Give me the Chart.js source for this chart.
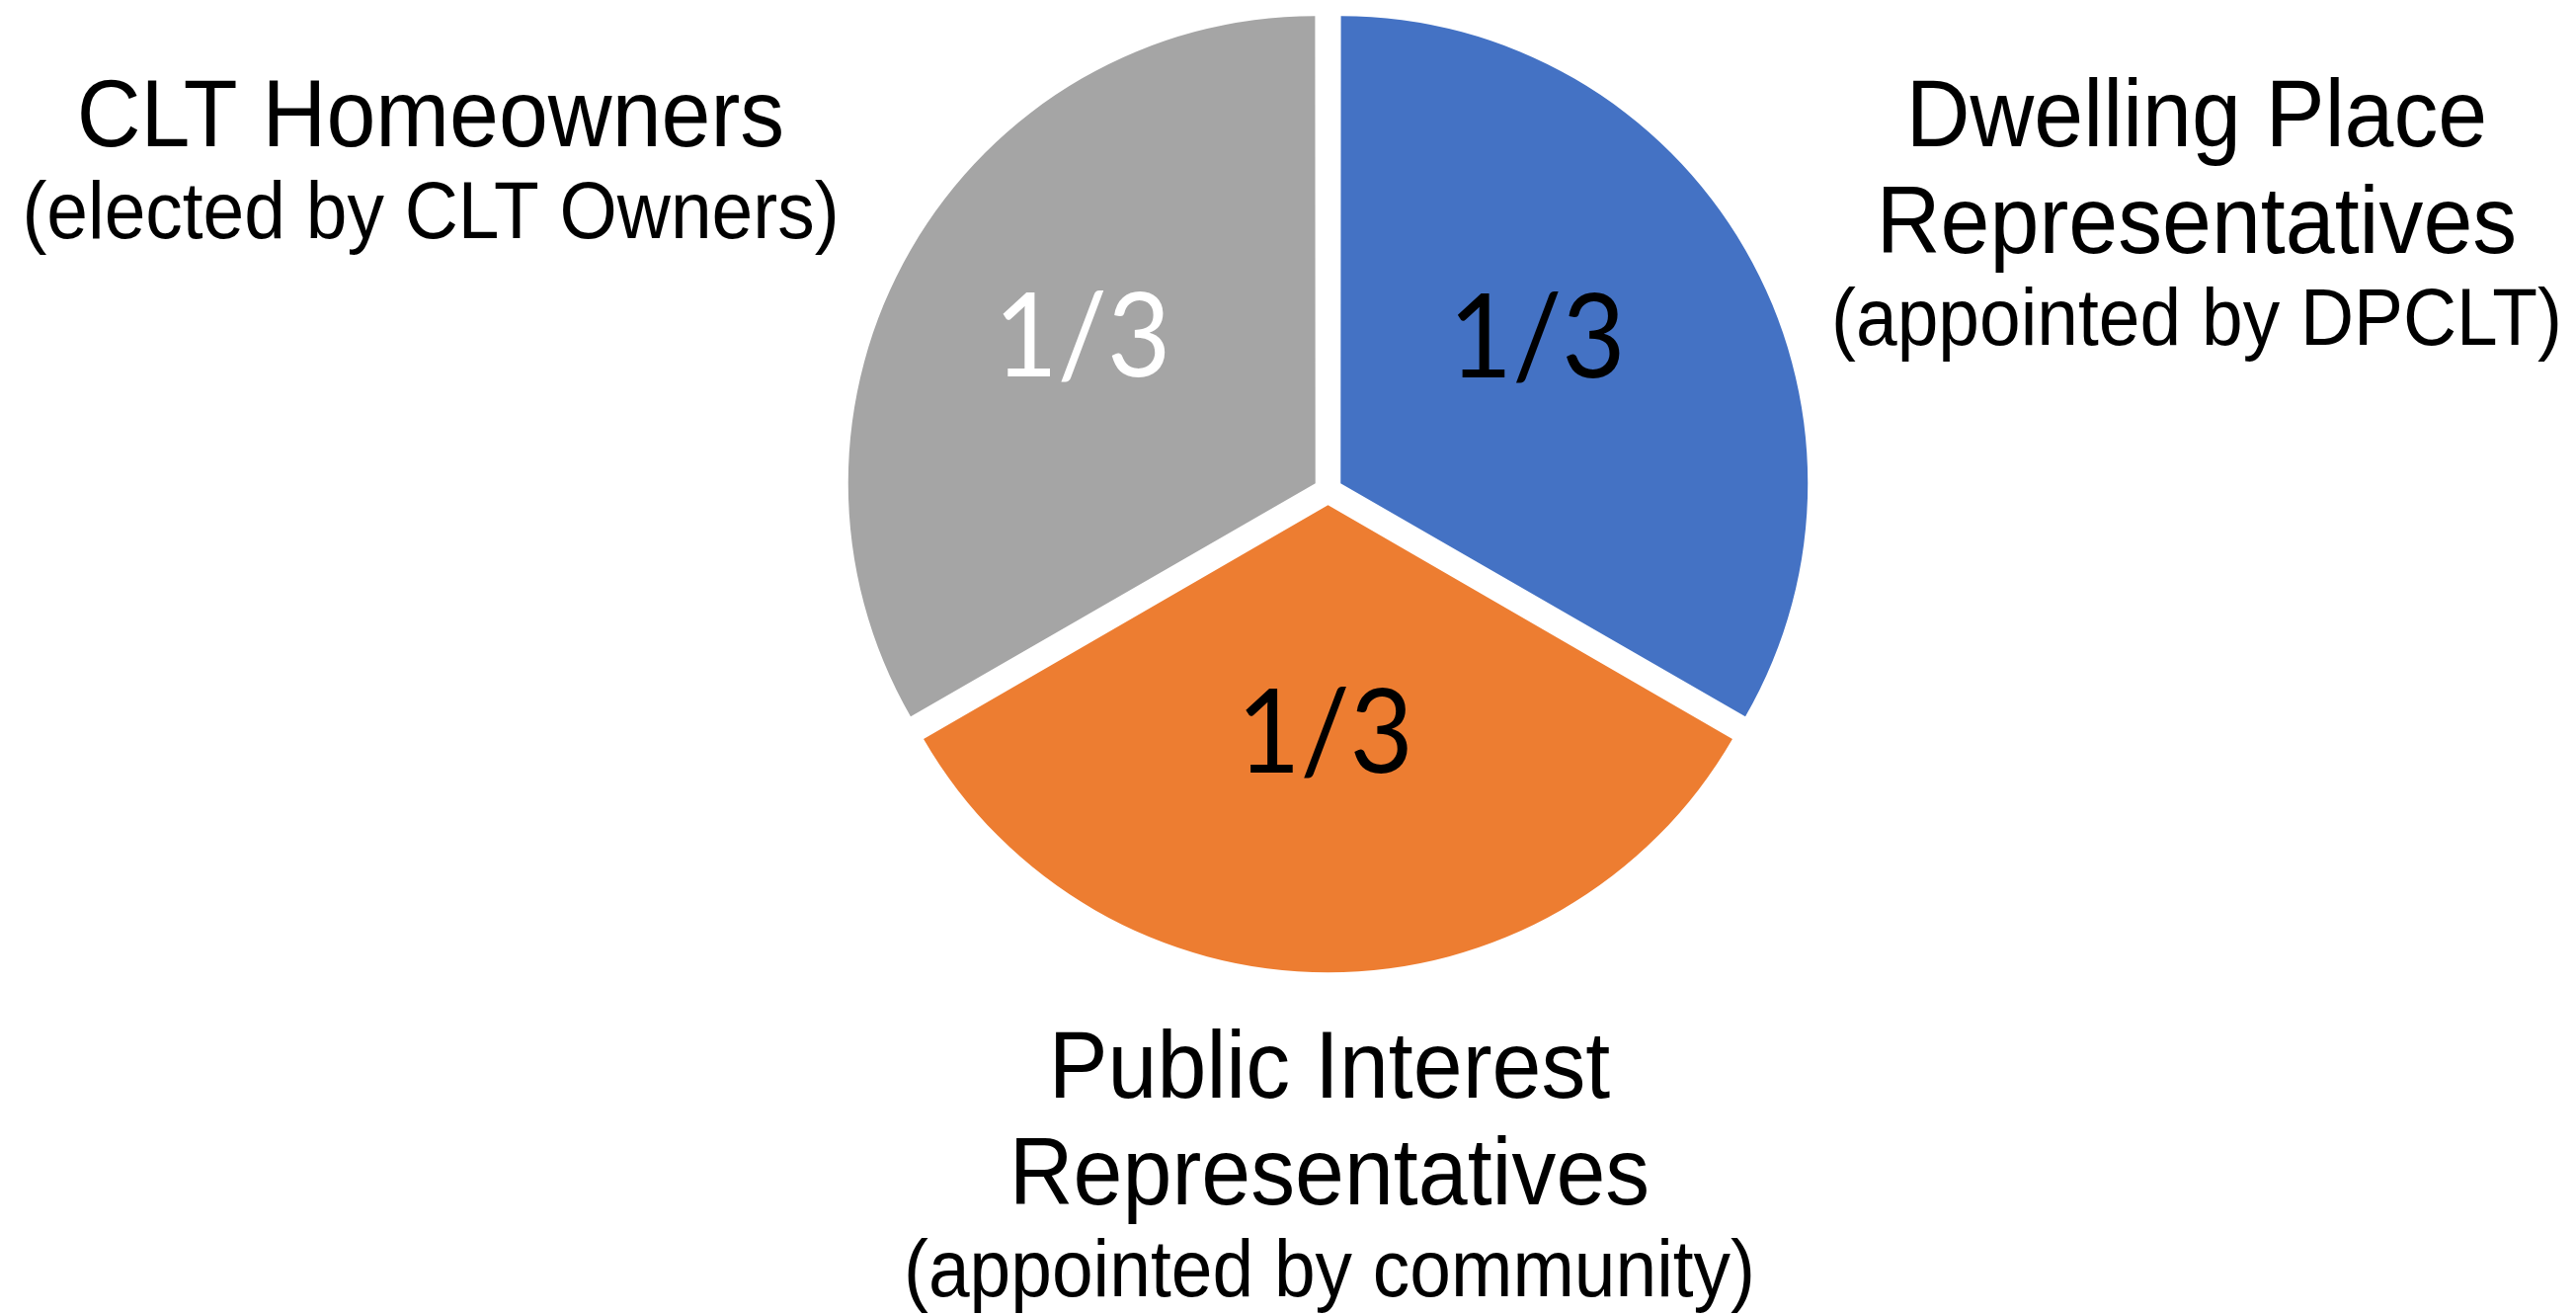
<!DOCTYPE html>
<html>
<head>
<meta charset="utf-8">
<script src="https://cdn.jsdelivr.net/npm/chart.js@4.4.1/dist/chart.umd.min.js"></script>
<style>
  html, body { margin: 0; padding: 0; background: #ffffff; }
  #wrap { width: 2608px; height: 1331px; }
</style>
</head>
<body>
<div id="wrap"><canvas id="c" width="2608" height="1331"></canvas></div>
<script>
// ---- data ----
const categories = ['Dwelling Place', 'Public Interest', 'CLT Homeowners'];
const categorySecondLines = ['Representatives', 'Representatives', ''];
const categoryNotes = ['(appointed by DPCLT)', '(appointed by community)', '(elected by CLT Owners)'];
const shares = [1, 1, 1];
const shareLabels = ['1/3', '1/3', '1/3'];
const sliceColors = ['#4472C4', '#ED7D31', '#A5A5A5'];
const shareLabelColors = ['#000000', '#000000', '#FFFFFF'];

// ---- label placement (style only) ----
const innerLabelPos = [ {frac: 0.56, dAng: -6.6}, {frac: 0.516, dAng: 0.7}, {frac: 0.626, dAng: 2.5} ];
const outerLabelPos = [ {dx: 879.5, dy: -349}, {dx: 1.5, dy: 614.6}, {dx: -908.5, dy: -349} ];

function drawCondensed(ctx, text, x, y, font, sx) {
  ctx.save();
  ctx.translate(x, y);
  ctx.scale(sx, 1);
  ctx.font = font;
  ctx.fillText(text, 0, 0);
  ctx.restore();
}

const labelPlugin = {
  id: 'sliceLabels',
  afterDatasetsDraw(chart) {
    const ctx = chart.ctx;
    const meta = chart.getDatasetMeta(0);
    meta.data.forEach((arc, i) => {
      const p = arc.getProps(['x', 'y', 'startAngle', 'endAngle', 'outerRadius'], true);
      const mid = (p.startAngle + p.endAngle) / 2 + innerLabelPos[i].dAng * Math.PI / 180;
      const r = p.outerRadius * innerLabelPos[i].frac;
      const lx = p.x + Math.cos(mid) * r;
      const ly = p.y + Math.sin(mid) * r;
      ctx.save();
      ctx.fillStyle = shareLabelColors[i];
      ctx.textAlign = 'center';
      ctx.textBaseline = 'alphabetic';
      drawCondensed(ctx, shareLabels[i], lx, ly + 118 * 0.36, '118px Lato', 0.94);
      ctx.restore();

      // outer category label
      const ox = p.x + outerLabelPos[i].dx;
      let oy = p.y + outerLabelPos[i].dy;
      ctx.save();
      ctx.fillStyle = '#000000';
      ctx.textAlign = 'center';
      ctx.textBaseline = 'alphabetic';
      const big = '97px "Liberation Sans", Arial, sans-serif';
      const small = '81px "Liberation Sans", Arial, sans-serif';
      drawCondensed(ctx, categories[i], ox, oy, big, 0.925);
      if (categorySecondLines[i]) {
        oy += 108;
        drawCondensed(ctx, categorySecondLines[i], ox, oy, big, 0.925);
      }
      oy += 93;
      drawCondensed(ctx, categoryNotes[i], ox, oy, small, 0.925);
      ctx.restore();
    });
  }
};

new Chart(document.getElementById('c'), {
  type: 'pie',
  data: {
    labels: categories,
    datasets: [{
      data: shares,
      backgroundColor: sliceColors,
      borderWidth: 0,
      offset: 59
    }]
  },
  options: {
    responsive: false,
    animation: false,
    radius: 471,
    layout: { padding: { left: 81, right: 0, top: 0, bottom: 338 } },
    plugins: {
      legend: { display: false },
      tooltip: { enabled: false },
      title: { display: false }
    }
  },
  plugins: [labelPlugin]
});
</script>
</body>
</html>
